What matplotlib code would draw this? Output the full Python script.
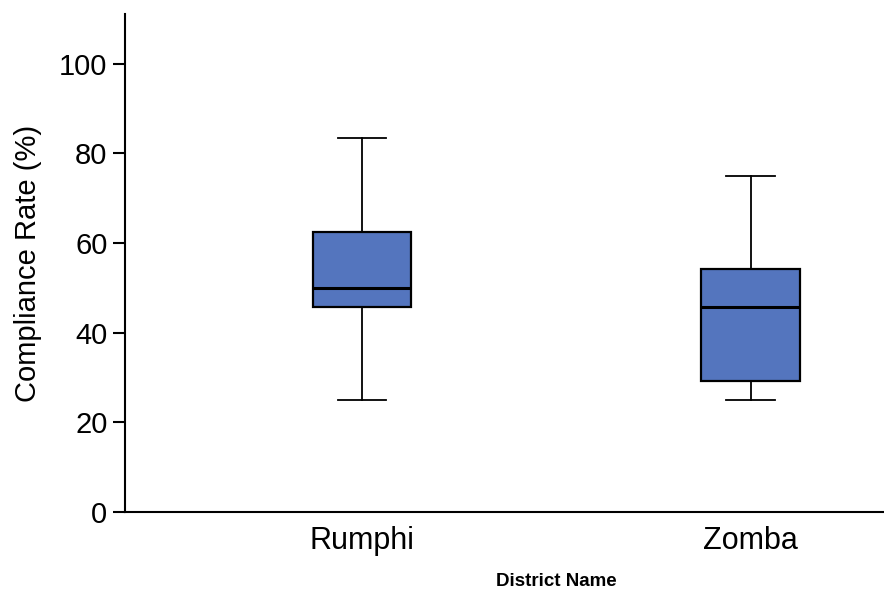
import matplotlib.pyplot as plt

# Datos (%)
districts = ['Rumphi', 'Zomba']
whisker_low = [25.0, 25.0]
q1 = [45.83, 29.17]
median = [50.0, 45.83]
q3 = [62.5, 54.17]
whisker_high = [83.33, 75.0]

plt.rcParams['font.family'] = ['Liberation Sans', 'DejaVu Sans']

stats = []
for i in range(len(districts)):
    stats.append({'label': districts[i], 'whislo': whisker_low[i], 'q1': q1[i],
                  'med': median[i], 'q3': q3[i], 'whishi': whisker_high[i], 'fliers': []})

fig = plt.figure(figsize=(8.84, 5.92), dpi=100)
ax = fig.add_axes([0.1414, 0.135, 0.857, 0.841])

ax.bxp(stats, positions=[1, 2], widths=0.253, capwidths=0.124, patch_artist=True,
       showfliers=False,
       boxprops={'facecolor': '#5475BE', 'edgecolor': 'black', 'linewidth': 1.6},
       medianprops={'color': 'black', 'linewidth': 2.2},
       whiskerprops={'color': 'black', 'linewidth': 1.3},
       capprops={'color': 'black', 'linewidth': 1.3})

ax.set_xlim(0.389, 2.34)
ax.set_ylim(0, 111)
ax.set_yticks([0, 20, 40, 60, 80, 100])

# ejes
for s in ['top', 'right']:
    ax.spines[s].set_visible(False)
for s in ['left', 'bottom']:
    ax.spines[s].set_linewidth(1.5)
ax.tick_params(axis='y', length=8.6, width=1.5, labelsize=21, pad=4)
ax.tick_params(axis='x', length=0, labelsize=22, pad=10)

ax.set_ylabel('Compliance Rate (%)', fontsize=21, labelpad=12)
# titulo del eje x desplazado a la derecha como en el original
fig.text(0.629, 0.018, 'District Name', fontsize=13.5, fontweight='bold',
         ha='center', va='center')

fig.savefig('out.png', dpi=100)
